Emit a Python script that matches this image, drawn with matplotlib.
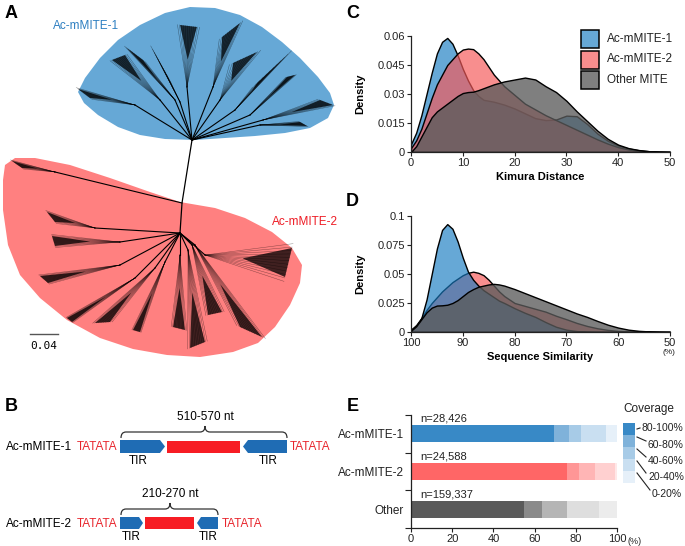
import numpy as np
import matplotlib
matplotlib.use('Agg')
from matplotlib import pyplot as plt
from matplotlib.patches import Rectangle, Polygon, PathPatch
from matplotlib.path import Path
from matplotlib.colors import to_rgba

plt.rcParams['font.family'] = ['Liberation Sans', 'DejaVu Sans']

# ---- panel C: Kimura distance densities
kimura_x = [0, 1, 2, 3, 4, 5, 6, 7, 8, 9, 10, 11, 12, 13, 14, 15, 16, 18, 20, 22,
            24, 26, 28, 30, 32, 34, 36, 38, 40, 42, 44, 46, 48, 50]
kimura_m1 = [0.004, 0.010, 0.019, 0.030, 0.041, 0.051, 0.057, 0.059, 0.056, 0.050,
             0.043, 0.037, 0.032, 0.029, 0.027, 0.0265, 0.026, 0.0245, 0.0225, 0.020,
             0.0175, 0.0165, 0.0168, 0.0188, 0.0185, 0.0145, 0.0095, 0.0058, 0.0033,
             0.0018, 0.0009, 0.0004, 0.0001, 0.0]
kimura_m2 = [0.002, 0.006, 0.012, 0.020, 0.028, 0.035, 0.040, 0.045, 0.048, 0.051,
             0.053, 0.0535, 0.0532, 0.051, 0.048, 0.044, 0.040, 0.034, 0.0295, 0.025,
             0.022, 0.019, 0.0165, 0.014, 0.0115, 0.009, 0.0065, 0.0043, 0.0025,
             0.0013, 0.0006, 0.0002, 0.0001, 0.0]
kimura_other = [0.0, 0.003, 0.008, 0.013, 0.018, 0.021, 0.023, 0.025, 0.027, 0.029,
                0.0305, 0.031, 0.0312, 0.032, 0.033, 0.034, 0.035, 0.0365, 0.0375, 0.0385,
                0.0375, 0.034, 0.031, 0.0265, 0.021, 0.016, 0.011, 0.0068, 0.0038,
                0.002, 0.001, 0.0004, 0.0001, 0.0]

# ---- panel D: sequence similarity densities
sim_x = [100, 99, 98, 97, 96, 95, 94, 93, 92, 91, 90, 89, 88, 87, 86, 85, 84, 83, 82,
         80, 78, 76, 74, 72, 70, 68, 66, 64, 62, 60, 58, 56, 54, 52, 50]
sim_m1 = [0.002, 0.005, 0.012, 0.028, 0.050, 0.072, 0.088, 0.093, 0.089, 0.078, 0.064,
          0.052, 0.045, 0.040, 0.036, 0.033, 0.030, 0.027, 0.025, 0.0205, 0.0165, 0.013,
          0.0085, 0.0045, 0.002, 0.0008, 0.0003, 0.0001, 0.0, 0.0, 0.0, 0.0, 0.0, 0.0, 0.0]
sim_m2 = [0.002, 0.006, 0.012, 0.019, 0.025, 0.030, 0.035, 0.039, 0.043, 0.046, 0.049,
          0.051, 0.052, 0.051, 0.049, 0.045, 0.040, 0.035, 0.031, 0.025, 0.0225, 0.020,
          0.0175, 0.014, 0.011, 0.0078, 0.0052, 0.0032, 0.0018, 0.0009, 0.0004, 0.0002,
          0.0001, 0.0, 0.0]
sim_other = [0.001, 0.005, 0.011, 0.017, 0.021, 0.0228, 0.023, 0.0235, 0.025, 0.0275,
             0.031, 0.0345, 0.037, 0.039, 0.040, 0.041, 0.0415, 0.041, 0.040, 0.037,
             0.0335, 0.030, 0.0265, 0.023, 0.0195, 0.016, 0.013, 0.0095, 0.0063, 0.0038,
             0.002, 0.001, 0.0005, 0.0002, 0.0]

# ---- panel E: coverage classes (80-100, 60-80, 40-60, 20-40, 0-20 %)
groups = ['Ac-mMITE-1', 'Ac-mMITE-2', 'Other']
group_n = ['n=28,426', 'n=24,588', 'n=159,337']
cov_labels = ['80-100%', '60-80%', '40-60%', '20-40%', '0-20%']
coverage = [[69.6, 7.0, 6.1, 12.1, 5.2],
            [75.9, 5.7, 7.6, 9.7, 1.1],
            [54.9, 8.9, 12.0, 15.5, 8.7]]
cov_colors = [['#3889c6', '#7fb2da', '#a7cbe7', '#c9dff1', '#e6f0f9'],
              ['#ff6666', '#ff9696', '#ffb5b5', '#ffd0d0', '#ffe8e8'],
              ['#5a5a5a', '#8a8a8a', '#b5b5b5', '#dedede', '#ececec']]

series_names = ['Ac-mMITE-1', 'Ac-mMITE-2', 'Other MITE']
series_colors = [to_rgba('#177bc1', 0.66), to_rgba('#f65959', 0.68), to_rgba('#5b5b5b', 0.78)]

# ---- panel A: tree layout (pixel space of the figure)
blue_blob = [(78, 92), (85, 78), (100, 58), (118, 40), (140, 25), (165, 13), (190, 7),
             (215, 8), (240, 15), (262, 27), (282, 42), (300, 58), (318, 77), (330, 93),
             (334, 105), (328, 118), (310, 128), (285, 133), (255, 136), (225, 138),
             (195, 140), (165, 139), (140, 135), (118, 127), (98, 115), (84, 103)]
red_blob = [(5, 165), (15, 158), (35, 158), (70, 165), (110, 178), (150, 192), (180, 202),
            (215, 208), (245, 218), (272, 232), (292, 248), (302, 265), (300, 283),
            (290, 305), (275, 327), (258, 343), (233, 352), (200, 357), (167, 355),
            (133, 349), (100, 338), (67, 320), (40, 298), (20, 275), (8, 245), (3, 210),
            (3, 180)]
# parent, node, tip1, tip2
blue_clades = [((192, 140), (135, 105), (78, 89), (90, 98)),
               ((192, 140), (160, 100), (112, 60), (125, 55)),
               ((192, 140), (175, 100), (127, 48), (143, 60)),
               ((192, 140), (180, 102), (153, 50), (168, 77)),
               ((192, 140), (187, 87), (180, 25), (197, 27)),
               ((192, 140), (213, 87), (222, 37), (240, 23)),
               ((192, 140), (220, 100), (233, 63), (257, 52)),
               ((192, 140), (235, 110), (257, 83), (287, 55)),
               ((192, 140), (250, 115), (287, 77), (295, 75)),
               ((192, 140), (263, 120), (320, 100), (333, 105)),
               ((192, 140), (260, 125), (300, 122), (307, 126))]
red_clades = [((182, 203), (55, 172), (12, 161), (22, 168)),
              ((180, 233), (95, 228), (47, 212), (55, 222)),
              ((180, 233), (120, 242), (52, 236), (55, 246)),
              ((180, 233), (120, 265), (40, 276), (48, 283)),
              ((180, 233), (135, 278), (67, 318), (72, 322)),
              ((180, 233), (155, 268), (95, 323), (110, 322)),
              ((180, 233), (165, 262), (133, 330), (140, 332)),
              ((180, 233), (180, 255), (173, 327), (185, 330)),
              ((180, 233), (188, 250), (190, 348), (205, 342)),
              ((180, 233), (192, 245), (208, 315), (222, 312)),
              ((180, 233), (195, 245), (240, 327), (262, 337)),
              ((180, 233), (205, 255), (292, 248), (285, 277))]

W, H = 685, 546
fig = plt.figure(figsize=(W / 100, H / 100), dpi=100)


def px_axes(x0, y0, x1, y1):
    return fig.add_axes([x0 / W, 1 - y1 / H, (x1 - x0) / W, (y1 - y0) / H])


def style(ax):
    for s in ['top', 'right']:
        ax.spines[s].set_visible(False)
    for s in ['left', 'bottom']:
        ax.spines[s].set_color('#222222')
        ax.spines[s].set_linewidth(0.9)
    ax.tick_params(direction='out', length=3, width=0.8, labelsize=8,
                   colors='#222222', pad=1.5)


def density(ax, x, y, k):
    ax.fill_between(x, 0, y, facecolor=series_colors[k], edgecolor='black', lw=1.0)


# C
axC = px_axes(411, 36, 670, 152)
style(axC)
density(axC, kimura_x, kimura_m1, 0)
density(axC, kimura_x, kimura_m2, 1)
density(axC, kimura_x, kimura_other, 2)
axC.set_xlim(0, 50)
axC.set_ylim(0, 0.06)
axC.set_xticks([0, 10, 20, 30, 40, 50])
axC.set_yticks([0, 0.015, 0.03, 0.045, 0.06])
axC.set_yticklabels(['0', '0.015', '0.03', '0.045', '0.06'])
axC.set_xlabel('Kimura Distance', fontsize=8, fontweight='bold', labelpad=3)
axC.set_ylabel('Density', fontsize=8, fontweight='bold')
axC.yaxis.set_label_coords(-0.175, 0.5)

# D
axD = px_axes(411, 216, 670, 332)
style(axD)
density(axD, sim_x, sim_m2, 1)
density(axD, sim_x, sim_m1, 0)
density(axD, sim_x, sim_other, 2)
axD.set_xlim(100, 50)
axD.set_ylim(0, 0.1)
axD.set_xticks([100, 90, 80, 70, 60, 50])
axD.set_yticks([0, 0.025, 0.05, 0.075, 0.1])
axD.set_yticklabels(['0', '0.025', '0.05', '0.075', '0.1'])
axD.set_xlabel('Sequence Similarity', fontsize=8, fontweight='bold', labelpad=3)
axD.set_ylabel('Density', fontsize=8, fontweight='bold')
axD.yaxis.set_label_coords(-0.175, 0.5)

# E
axE = px_axes(411, 415, 617, 528)
style(axE)
for i, row in enumerate(coverage):
    lefts = np.concatenate([[0], np.cumsum(row)[:-1]])
    axE.barh([i] * len(row), row, left=lefts, height=0.46, color=cov_colors[i], lw=0)
    axE.text(4.5, i - 0.40, group_n[i], fontsize=8, va='center', ha='left', color='#222222')
axE.set_xlim(0, 100)
axE.set_ylim(2.5, -0.5)
axE.set_xticks([0, 20, 40, 60, 80, 100])
axE.set_yticks([0, 1, 2])
axE.set_yticklabels(groups, fontsize=8.5)
axE.tick_params(axis='y', length=0, pad=5)
axE.set_yticks([-0.5, 0.5, 1.5, 2.5], minor=True)
axE.tick_params(axis='y', which='minor', length=4, width=0.8, direction='out', colors='#222222')

# canvas overlay in pixel coordinates
cv = fig.add_axes([0, 0, 1, 1])
cv.set_xlim(0, W)
cv.set_ylim(H, 0)
cv.axis('off')

# panel A
cv.add_patch(Polygon(blue_blob, closed=True, facecolor='#66a8d6', edgecolor='none'))
cv.add_patch(Polygon(red_blob, closed=True, facecolor='#ff8080', edgecolor='none'))
cv.plot([192, 182, 180], [140, 203, 233], color='k', lw=0.9)
for clades in (blue_clades, red_clades):
    for (p, n, t1, t2) in clades:
        cv.plot([p[0], n[0]], [p[1], n[1]], color='k', lw=0.8)
        # brush: thin leaves fanning out, dense towards the tips
        mid = (n[0] + 0.45 * ((t1[0] + t2[0]) / 2 - n[0]), n[1] + 0.45 * ((t1[1] + t2[1]) / 2 - n[1]))
        cv.fill([mid[0], t1[0], t2[0]], [mid[1], t1[1], t2[1]], color='k', alpha=0.75, lw=0)
        for f in np.linspace(-0.15, 1.15, 12):
            cv.plot([n[0], t1[0] + f * (t2[0] - t1[0])], [n[1], t1[1] + f * (t2[1] - t1[1])],
                    color='k', lw=0.35, alpha=0.45)
cv.text(53, 26, 'Ac-mMITE-1', color='#2d7fc1', fontsize=8.5, va='center')
cv.text(272, 222, 'Ac-mMITE-2', color='#ee1c25', fontsize=8.5, va='center')
cv.plot([30, 58], [334, 334], color='#555555', lw=1)
cv.text(44, 346, '0.04', fontsize=8, ha='center', va='center', family='DejaVu Sans Mono')

# panel B
arrow_blue = '#1f6cb4'
box_red = '#f71d24'
tata_red = '#e8262d'


def arrow(x0, x1, sx, yc, h):
    cv.add_patch(Polygon([(x0, yc - h), (sx, yc - h), (x1, yc), (sx, yc + h), (x0, yc + h)],
                         closed=True, facecolor=arrow_blue, edgecolor='none'))


def brace(x0, x1, xm, yb, yt, yc, r=5):
    verts = [(x0, yb), (x0, yt), (x0 + r, yt), (xm - r, yt), (xm, yt), (xm, yc),
             (xm, yt), (xm + r, yt), (x1 - r, yt), (x1, yt), (x1, yb)]
    codes = [Path.MOVETO, Path.CURVE3, Path.CURVE3, Path.LINETO, Path.CURVE3, Path.CURVE3,
             Path.CURVE3, Path.CURVE3, Path.LINETO, Path.CURVE3, Path.CURVE3]
    cv.add_patch(PathPatch(Path(verts, codes), facecolor='none', edgecolor='#333333', lw=0.9))


# row 1
arrow(120, 165, 160, 446.5, 6.5)
cv.add_patch(Rectangle((167, 440.5), 73, 12, facecolor=box_red, edgecolor='none'))
arrow(287, 243, 248, 446.5, 6.5)
brace(121, 287, 205, 438, 432, 426)
cv.text(205, 417, '510-570 nt', fontsize=8.5, ha='center', va='center')
cv.text(6, 447, 'Ac-mMITE-1', fontsize=8.5, va='center')
cv.text(97, 447, 'TATATA', fontsize=8.5, va='center', ha='center', color=tata_red)
cv.text(290, 447, 'TATATA', fontsize=8.5, va='center', ha='left', color=tata_red)
cv.text(138, 461, 'TIR', fontsize=8.5, ha='center', va='center')
cv.text(268, 461, 'TIR', fontsize=8.5, ha='center', va='center')
# row 2
arrow(120, 143, 139, 523, 6)
cv.add_patch(Rectangle((145, 517), 49, 12, facecolor=box_red, edgecolor='none'))
arrow(218, 197, 201, 523, 6)
brace(121, 218, 170, 515, 509, 503)
cv.text(170, 494, '210-270 nt', fontsize=8.5, ha='center', va='center')
cv.text(6, 524, 'Ac-mMITE-2', fontsize=8.5, va='center')
cv.text(97, 524, 'TATATA', fontsize=8.5, va='center', ha='center', color=tata_red)
cv.text(222, 524, 'TATATA', fontsize=8.5, va='center', ha='left', color=tata_red)
cv.text(131, 537, 'TIR', fontsize=8.5, ha='center', va='center')
cv.text(208, 537, 'TIR', fontsize=8.5, ha='center', va='center')

# legend C
for k, name in enumerate(series_names):
    y0 = 30 + k * 20.5
    cv.add_patch(Rectangle((581, y0), 18, 18, facecolor=series_colors[k],
                           edgecolor='black', lw=1.1))
    cv.text(607, y0 + 9, name, fontsize=8.5, va='center', color='#222222')

# legend E
cv.text(623, 409, 'Coverage', fontsize=8.5, va='center', color='#222222')
lab_pos = [(642, 428), (648, 445), (648, 461), (648, 477), (652, 494)]
for k, c in enumerate(cov_colors[0]):
    y0 = 423 + k * 12
    cv.add_patch(Rectangle((623, y0), 12, 12, facecolor=c, edgecolor='none'))
    lx, ly = lab_pos[k]
    cv.plot([637, lx - 2], [y0 + (6 if k == 0 else 2), ly - (0 if k == 0 else 4)],
            color='#222222', lw=0.8)
    cv.text(lx, ly, cov_labels[k], fontsize=7.5, va='center', color='#222222')

cv.text(628, 542, '(%)', fontsize=6.5, va='center', color='#222222')
cv.text(669, 353, '(%)', fontsize=6, va='center', ha='center', color='#222222')

# panel letters
for letter, (x, y) in zip('ABCDE', [(5, 5), (5, 398), (346, 5), (346, 193), (347, 398)]):
    cv.text(x, y, letter, fontsize=13, fontweight='bold', va='top', ha='left')

fig.savefig('out.png', dpi=100)
